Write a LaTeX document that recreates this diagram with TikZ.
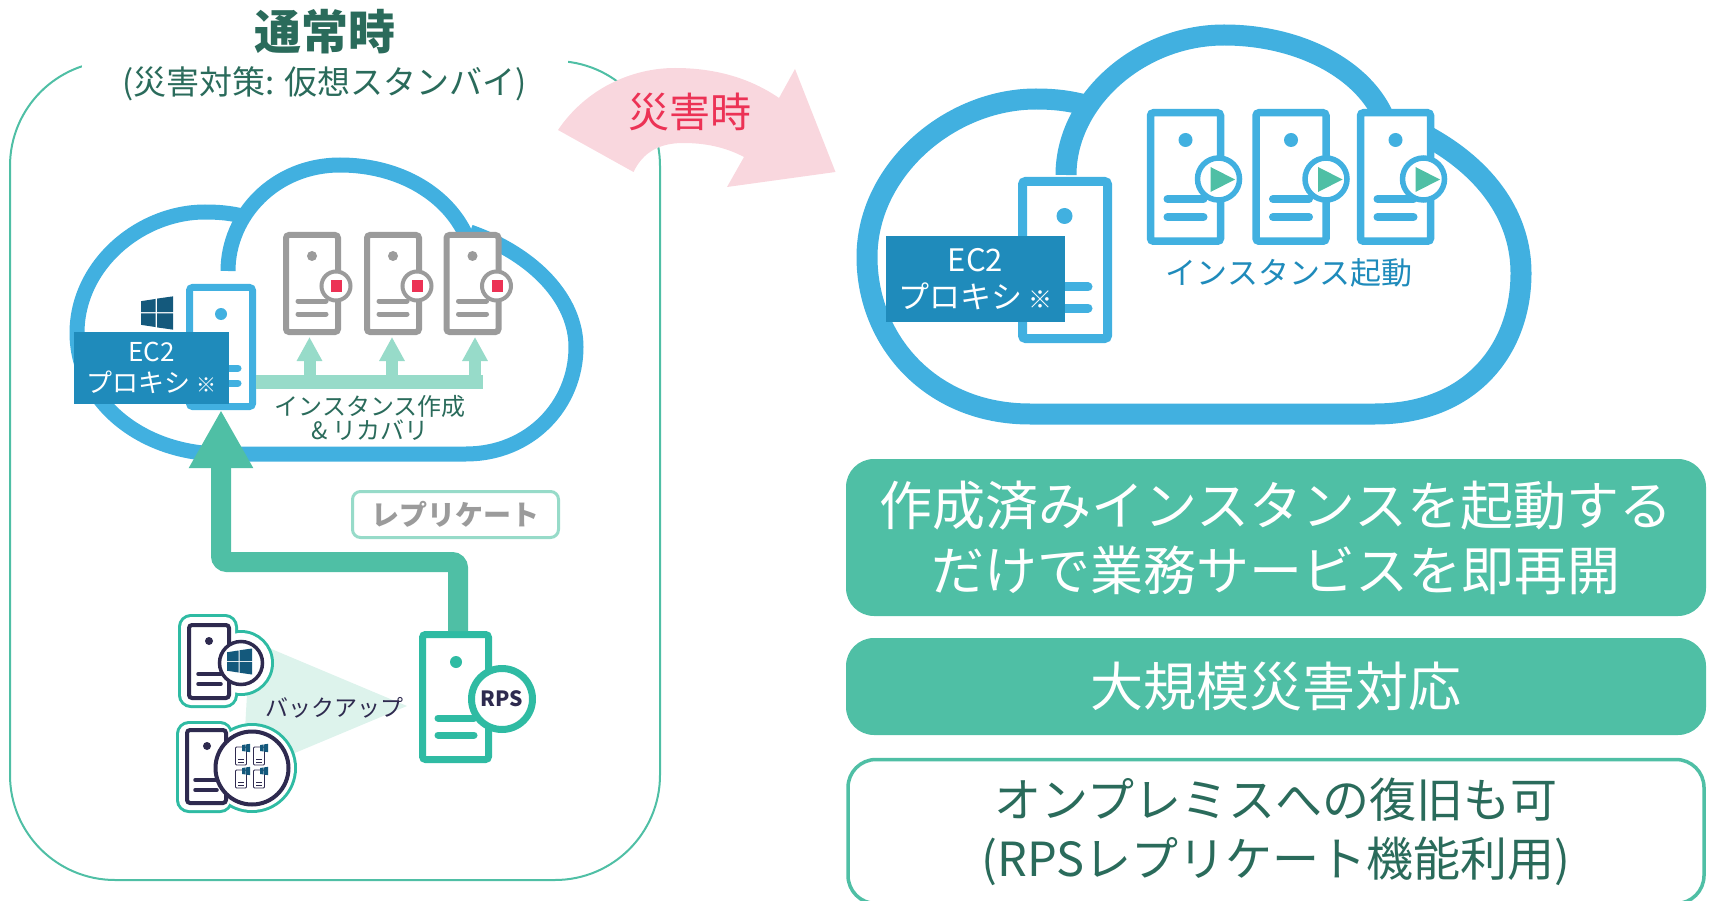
\documentclass[tikz,border=0pt]{standalone}
\usepackage{fontspec}
\setmainfont{Noto Sans CJK JP}
\usetikzlibrary{arrows.meta}
\definecolor{cloudblue}{HTML}{41B0E0}
\definecolor{labelblue}{HTML}{1F8BBB}
\definecolor{mint}{HTML}{4FBFA5}
\definecolor{lightmint}{HTML}{97DBC9}
\definecolor{paletint}{HTML}{DDF3EC}
\definecolor{rpsgreen}{HTML}{2FBBA3}
\definecolor{darkgreen}{HTML}{2A6B5B}
\definecolor{srvgray}{HTML}{9B9B9B}
\definecolor{navy}{HTML}{2E2A4F}
\definecolor{winblue}{HTML}{14597C}
\definecolor{alertred}{HTML}{EC3255}
\definecolor{pinktint}{HTML}{F9D7DE}
\tikzset{
  srvbox/.style={rectangle,rounded corners=3,fill=white,inner sep=0pt},
  label/.style={inner sep=0pt,align=center},
  ecbox/.style={rectangle,fill=labelblue,text=white,inner sep=0pt,align=center},
  pillbox/.style={rectangle,rounded corners=28,inner sep=0pt,align=center,minimum width=860pt},
  badge/.style={circle,fill=white,inner sep=0pt},
}
\newcommand{\winlogo}[3]{
  \begin{scope}[shift={(#1,#2)},scale=#3]
    \fill[winblue] (-.5,-.37) -- (-.04,-.44) -- (-.04,-.03) -- (-.5,-.03) -- cycle;
    \fill[winblue] (.0,-.45) -- (.5,-.52) -- (.5,-.03) -- (.0,-.03) -- cycle;
    \fill[winblue] (-.5,.01) -- (-.04,.01) -- (-.04,.44) -- (-.5,.37) -- cycle;
    \fill[winblue] (.0,.01) -- (.5,.01) -- (.5,.52) -- (.0,.45) -- cycle;
  \end{scope}
}
\newcommand{\miniserver}[2]{
  \draw[navy,line width=.8,rounded corners=1,fill=white] (#1-5.5,#2-9) rectangle (#1+5.5,#2+9);
  \draw[navy,line width=.8] (#1-3,#2+3) -- (#1+3,#2+3);
  \draw[navy,line width=.8] (#1-3,#2+6) -- (#1+3,#2+6);
  \winlogo{#1+5}{#2-8}{8}
}
\begin{document}
\begin{tikzpicture}[x=1pt,y=-1pt]
  \useasboundingbox (0,0) rectangle (1710,901);

  % normal operation side
  \node[rectangle,draw=mint,line width=2,rounded corners=105,minimum width=650pt,minimum height=819pt,inner sep=0pt] (frame) at (335,470.5) {};
  \fill[white] (82,50) rectangle (568,75);
  \node[label,text=darkgreen,font=\bfseries\fontsize{47}{50}\selectfont] (title) at (325,32) {通常時};
  \node[label,text=darkgreen,font=\fontsize{33}{36}\selectfont] (subtitle) at (325,84) {(災害対策: 仮想スタンバイ)};

  \draw[cloudblue,line width=15] (228,271) .. controls (228,215) and (275,165) .. (340,165) .. controls (400,165) and (450,195) .. (468,240);
  \draw[cloudblue,line width=15] (470,232) .. controls (535,255) and (576,300) .. (576,347) .. controls (576,405) and (530,454) .. (466,454) -- (222,454) .. controls (140,454) and (77,400) .. (77,333) .. controls (77,265) and (140,212) .. (205,212) .. controls (218,212) and (230,213) .. (242,216);

  \foreach \n/\cx in {1/312,2/393,3/472.5}{
    \node[srvbox,draw=srvgray,line width=6,minimum width=52pt,minimum height=97pt] (g\n) at (\cx,283.5) {};
    \fill[srvgray] (\cx,256) circle[radius=5];
    \draw[srvgray,line width=5,line cap=round] (\cx-14,301) -- (\cx+14,301);
    \draw[srvgray,line width=5,line cap=round] (\cx-14,314) -- (\cx+14,314);
    \node[badge,draw=srvgray,line width=4,minimum size=29pt] (gb\n) at (\cx+24,286) {};
    \fill[alertred] (\cx+19,280) rectangle (\cx+30,292);
  }

  \node[srvbox,draw=cloudblue,line width=7,minimum width=63pt,minimum height=119pt] (proxy) at (221,347) {};
  \fill[cloudblue] (221,314) circle[radius=6];
  \draw[cloudblue,line width=7,line cap=round] (200,368) -- (238,368);
  \draw[cloudblue,line width=7,line cap=round] (200,383) -- (238,383);
  \winlogo{157}{313}{32}
  \node[ecbox,minimum width=155pt,minimum height=72pt,font=\fontsize{26}{31}\selectfont] (ecleft) at (151.5,368) {EC2\\プロキシ {\fontsize{20}{20}\selectfont ※}};

  \coordinate (barend) at (483,382);
  \draw[lightmint,line width=14] (proxy.east |- barend) -- (barend);
  \draw[lightmint,line width=12,-{Triangle[width=24pt,length=24pt]},shorten >=2] ([xshift=-2.5]g1.south |- barend) -- ([xshift=-2.5]g1.south);
  \draw[lightmint,line width=12,-{Triangle[width=24pt,length=24pt]},shorten >=2] ([xshift=-1]g2.south |- barend) -- ([xshift=-1]g2.south);
  \draw[lightmint,line width=12,-{Triangle[width=24pt,length=24pt]},shorten >=2] ([xshift=2.5]g3.south |- barend) -- ([xshift=2.5]g3.south);
  \node[label,text=darkgreen,font=\fontsize{24}{24}\selectfont] (createlbl) at (370,418) {インスタンス作成\\\& リカバリ};

  \node[rectangle,rounded corners=8,draw=lightmint,line width=3,fill=white,text=srvgray,minimum width=206pt,minimum height=46pt,inner sep=0pt,font=\bfseries\fontsize{28}{30}\selectfont] (repl) at (455.5,514.5) {レプリケート};

  % backup sources
  \fill[paletint] (250,640) -- (407,706) -- (290,755) -- (245,730) -- cycle;
  \node[label,text=navy,font=\fontsize{23}{25}\selectfont] (backup) at (334,708) {バックアップ};

  \draw[rpsgreen,line width=6,rounded corners=10] (181,617) rectangle (235,705);
  \draw[rpsgreen,line width=6] (241,663) circle[radius=30];
  \fill[white,rounded corners=10] (181,617) rectangle (235,705);
  \fill[white] (241,663) circle[radius=30];
  \node[srvbox,draw=navy,line width=4,minimum width=40pt,minimum height=73pt] (host) at (209,661.5) {};
  \fill[navy] (209,641) circle[radius=4];
  \draw[navy,line width=3.5,line cap=round] (198,674) -- (221,674);
  \draw[navy,line width=3.5,line cap=round] (198,684) -- (221,684);
  \node[badge,draw=navy,line width=3.5,minimum size=43pt] (hostb) at (241,663) {};
  \winlogo{239.5}{661.5}{25}

  \draw[rpsgreen,line width=6,rounded corners=10] (179,724) rectangle (230,810);
  \draw[rpsgreen,line width=6] (252,768) circle[radius=42];
  \fill[white,rounded corners=10] (179,724) rectangle (230,810);
  \fill[white] (252,768) circle[radius=42];
  \node[srvbox,draw=navy,line width=4,minimum width=39pt,minimum height=73pt] (vmhost) at (206.5,766.5) {};
  \fill[navy] (207,746) circle[radius=4];
  \draw[navy,line width=3.5,line cap=round] (195,780) -- (217,780);
  \draw[navy,line width=3.5,line cap=round] (195,790) -- (217,790);
  \node[badge,draw=navy,line width=4,minimum size=73pt] (vmhostb) at (252,768) {};
  \miniserver{241}{756}
  \miniserver{259}{756}
  \miniserver{241}{779}
  \miniserver{259}{779}

  \coordinate (turn) at (340,562);
  \node[srvbox,draw=rpsgreen,line width=7,minimum width=66pt,minimum height=125pt] (rps) at (455.5,697) {};
  \draw[mint,line width=20,rounded corners=6,-{Triangle[width=60pt,length=58pt]}] ([xshift=2.5]rps.north) |- (turn) -| (proxy.south);
  \fill[rpsgreen] (456,662) circle[radius=6];
  \draw[rpsgreen,line width=7,line cap=round] (438,718) -- (474,718);
  \draw[rpsgreen,line width=7,line cap=round] (438,735) -- (474,735);
  \node[badge,draw=rpsgreen,line width=7,minimum size=61pt,text=navy,font=\bfseries\fontsize{21}{21}\selectfont] (rpsb) at (502,699) {RPS};

  % failover arrow
  \fill[pinktint] (558,130) .. controls (585,90) and (630,68) .. (675,68) .. controls (715,68) and (750,78) .. (779,98) -- (795,69) -- (835.5,172) -- (727,187) -- (744,157) .. controls (725,147) and (705,143) .. (683,143) .. controls (660,143) and (643,152) .. (633.5,172) -- cycle;
  \node[label,text=alertred,font=\fontsize{41}{44}\selectfont] (failover) at (690,112) {災害時};

  % disaster side
  \draw[cloudblue,line width=21] (1066,175) .. controls (1066,100) and (1140,35) .. (1224,35) .. controls (1300,35) and (1365,70) .. (1385,120);
  \draw[cloudblue,line width=21] (1425,135) .. controls (1490,170) and (1521,220) .. (1521,273) .. controls (1521,350) and (1470,414) .. (1375,414) -- (1030,414) .. controls (930,414) and (867,340) .. (867,257) .. controls (867,170) and (950,99) .. (1036,99) .. controls (1055,99) and (1070,101) .. (1085,105);

  \foreach \n/\cx/\bx in {1/1185.5/1218.5,2/1291/1326,3/1395.5/1423.5}{
    \node[srvbox,draw=cloudblue,line width=7.5,minimum width=70pt,minimum height=128.5pt] (r\n) at (\cx,177) {};
    \fill[cloudblue] (\cx,140) circle[radius=7];
    \draw[cloudblue,line width=8,line cap=round] (\cx-18,199) -- (\cx+18,199);
    \draw[cloudblue,line width=8,line cap=round] (\cx-18,217) -- (\cx+18,217);
    \node[badge,draw=cloudblue,line width=5.5,minimum size=42pt] (rb\n) at (\bx,179) {};
    \fill[mint] (\bx-8,167) -- (\bx+16.5,179.5) -- (\bx-8,192) -- cycle;
  }

  \node[srvbox,draw=cloudblue,line width=9,minimum width=85pt,minimum height=157pt] (proxyr) at (1065,260) {};
  \fill[cloudblue] (1064.5,216) circle[radius=8];
  \draw[cloudblue,line width=9,line cap=round] (1040,287) -- (1088,287);
  \draw[cloudblue,line width=9,line cap=round] (1040,308) -- (1088,308);
  \node[ecbox,minimum width=178.5pt,minimum height=86pt,font=\fontsize{31}{37}\selectfont] (ecright) at (975.5,279) {EC2\\プロキシ {\fontsize{24}{24}\selectfont ※}};
  \node[label,text=labelblue,font=\fontsize{31}{34}\selectfont] (startlbl) at (1289,273) {インスタンス起動};

  \node[pillbox,fill=mint,text=white,minimum height=157pt,font=\fontsize{53}{65}\selectfont] (msga) at (1276,537.5) {作成済みインスタンスを起動する\\だけで業務サービスを即再開};
  \node[pillbox,fill=mint,text=white,minimum height=97pt,font=\fontsize{53}{65}\selectfont] (msgb) at (1276,686.5) {大規模災害対応};
  \node[pillbox,draw=mint,line width=3.5,fill=white,text=darkgreen,minimum width=856pt,minimum height=144pt,font=\fontsize{47}{59}\selectfont] (msgc) at (1276,831.5) {オンプレミスへの復旧も可\\(RPSレプリケート機能利用)};
\end{tikzpicture}
\end{document}
